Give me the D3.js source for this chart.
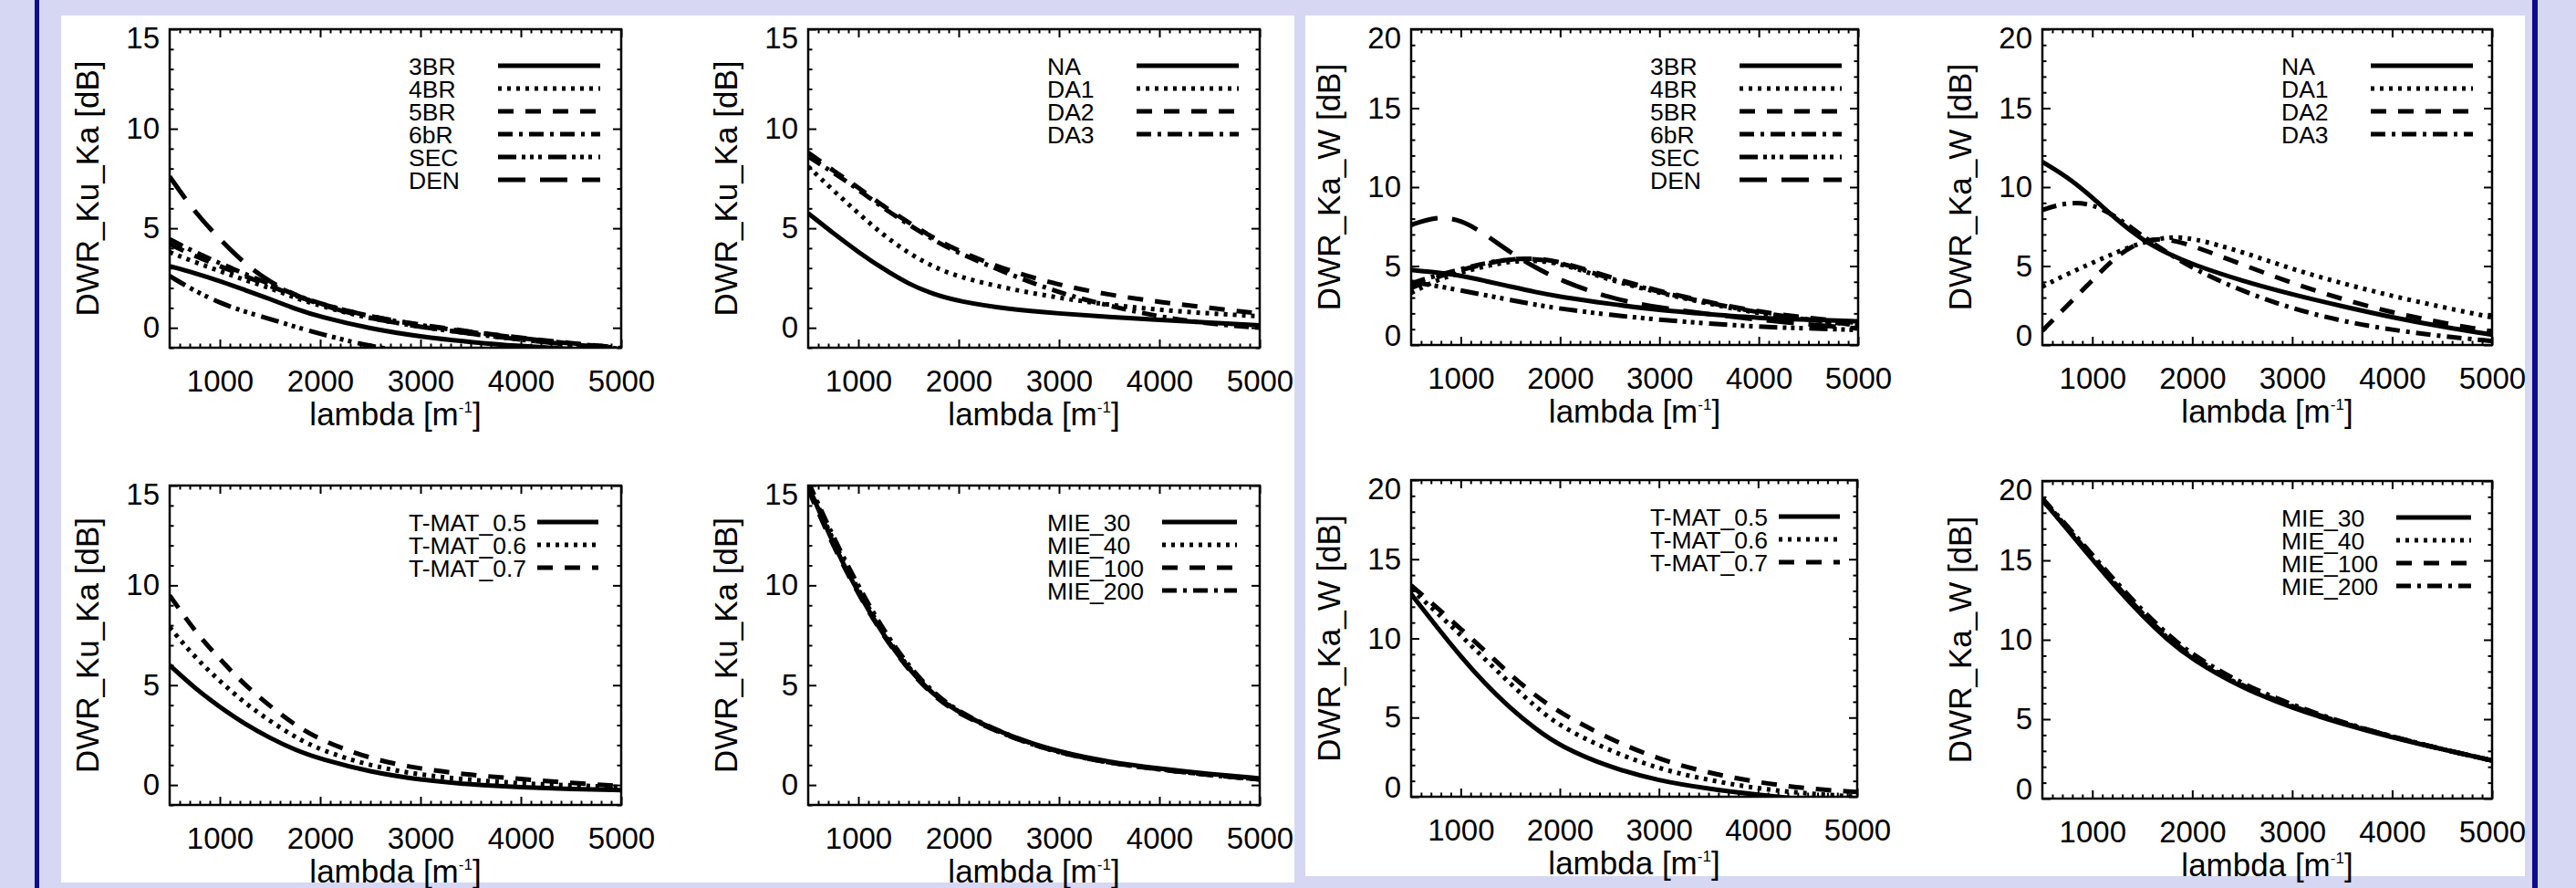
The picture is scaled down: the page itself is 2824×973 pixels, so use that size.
<!DOCTYPE html>
<html>
<head>
<meta charset="utf-8">
<script src="https://cdn.jsdelivr.net/npm/d3@7"></script>
<style>
  body { margin: 0; background: #d6d7f3; }
  svg { display: block; }
  text { font-family: "Liberation Sans", Arial, Helvetica, sans-serif; fill: #000; }
</style>
</head>
<body>
<div id="container"></div>
<script>
// ---- data ----
const lambda = [500, 750, 1000, 1250, 1500, 1750, 2000, 2500, 3000, 3500, 4000, 4500, 5000];
const xTicks = [1000, 2000, 3000, 4000, 5000];
const yTicksKuKa = [0, 5, 10, 15];
const yTicksKaW = [0, 5, 10, 15, 20];

// DWR Ku-Ka, particle habits
const kuKa3BR = [3.1, 2.75, 2.35, 1.9, 1.45, 0.95, 0.55, -0.05, -0.45, -0.72, -0.92, -1.08, -1.2];
const kuKa4BR = [3.8, 3.3, 2.85, 2.4, 2.0, 1.5, 1.1, 0.45, 0.05, -0.3, -0.6, -0.85, -1.05];
const kuKa5BR = [4.2, 3.6, 3.1, 2.6, 2.1, 1.6, 1.2, 0.55, 0.15, -0.2, -0.5, -0.78, -1.0];
const kuKa6bR = [4.45, 3.8, 3.25, 2.7, 2.2, 1.65, 1.2, 0.55, 0.12, -0.22, -0.52, -0.8, -1.02];
const kuKaSEC = [2.6, 1.85, 1.25, 0.8, 0.45, 0.05, -0.3, -0.95, -1.3, -1.6, -1.8, -2.0, -2.1];
const kuKaDEN = [7.6, 5.8, 4.45, 3.2, 2.3, 1.65, 1.15, 0.45, 0.05, -0.3, -0.6, -0.85, -1.05];

// DWR Ku-Ka, aggregates
const kuKaNA = [5.75, 4.75, 3.8, 2.95, 2.2, 1.68, 1.33, 0.93, 0.72, 0.54, 0.4, 0.26, 0.12];
const kuKaDA1 = [8.1, 6.9, 5.75, 4.65, 3.75, 3.05, 2.55, 1.95, 1.5, 1.15, 0.9, 0.72, 0.58];
const kuKaDA2 = [8.8, 7.9, 7.05, 6.1, 5.3, 4.5, 3.85, 2.85, 2.15, 1.65, 1.3, 1.0, 0.72];
const kuKaDA3 = [8.6, 7.8, 6.95, 6.0, 5.2, 4.4, 3.75, 2.7, 1.75, 1.1, 0.55, 0.2, 0.0];

// DWR Ka-W, particle habits
const kaW3BR = [4.75, 4.6, 4.4, 4.05, 3.7, 3.35, 3.05, 2.6, 2.2, 1.95, 1.7, 1.6, 1.5];
const kaW4BR = [3.3, 4.1, 4.6, 5.0, 5.3, 5.35, 5.2, 4.1, 3.3, 2.6, 2.0, 1.6, 1.25];
const kaW5BR = [3.6, 4.3, 4.75, 5.15, 5.45, 5.5, 5.3, 4.3, 3.4, 2.7, 2.1, 1.7, 1.4];
const kaW6bR = [3.9, 4.4, 4.8, 5.2, 5.45, 5.45, 5.25, 4.2, 3.35, 2.65, 2.05, 1.6, 1.25];
const kaWSEC = [4.0, 3.75, 3.45, 3.15, 2.85, 2.55, 2.3, 1.9, 1.6, 1.35, 1.15, 1.05, 0.95];
const kaWDEN = [7.6, 8.15, 7.95, 7.0, 5.85, 4.9, 4.1, 2.95, 2.35, 1.95, 1.6, 1.3, 1.05];

// DWR Ka-W, aggregates
const kaWNA = [11.6, 10.65, 9.35, 7.9, 6.65, 5.8, 5.1, 4.05, 3.2, 2.45, 1.75, 1.15, 0.65];
const kaWDA1 = [3.7, 4.5, 5.2, 5.9, 6.5, 6.85, 6.8, 5.9, 4.8, 3.9, 3.1, 2.4, 1.75];
const kaWDA2 = [0.9, 2.5, 4.1, 5.7, 6.65, 6.75, 6.3, 5.1, 3.9, 2.9, 2.05, 1.4, 0.85];
const kaWDA3 = [8.55, 9.05, 8.95, 8.1, 6.9, 5.85, 4.85, 3.4, 2.3, 1.5, 0.95, 0.55, 0.25];

// DWR Ku-Ka, T-matrix aspect ratios
const kuKaTMAT05 = [6.0, 4.85, 3.9, 3.05, 2.35, 1.75, 1.3, 0.65, 0.25, 0.02, -0.12, -0.2, -0.26];
const kuKaTMAT06 = [7.9, 6.4, 5.2, 4.1, 3.2, 2.4, 1.75, 0.95, 0.5, 0.25, 0.08, -0.02, -0.1];
const kuKaTMAT07 = [9.5, 7.7, 6.3, 5.0, 3.95, 3.0, 2.25, 1.3, 0.8, 0.5, 0.3, 0.1, -0.05];

// DWR Ku-Ka, Mie
const kuKaMIE30 = [15.0, 12.05, 9.6, 7.5, 5.8, 4.5, 3.6, 2.45, 1.65, 1.15, 0.82, 0.55, 0.33];
const kuKaMIE40 = [15.1, 12.2, 9.75, 7.6, 5.85, 4.55, 3.6, 2.4, 1.6, 1.1, 0.78, 0.5, 0.28];
const kuKaMIE100 = [14.8, 11.95, 9.55, 7.45, 5.75, 4.45, 3.55, 2.4, 1.6, 1.1, 0.78, 0.5, 0.28];
const kuKaMIE200 = [15.2, 12.4, 9.95, 7.75, 5.95, 4.6, 3.65, 2.45, 1.62, 1.1, 0.78, 0.5, 0.27];

// DWR Ka-W, T-matrix aspect ratios
const kaWTMAT05 = [12.8, 10.8, 8.85, 7.1, 5.6, 4.3, 3.2, 1.85, 1.0, 0.5, 0.12, -0.2, -0.5];
const kaWTMAT06 = [13.1, 11.7, 10.2, 8.65, 7.15, 5.7, 4.45, 2.9, 1.75, 1.05, 0.5, 0.2, 0.0];
const kaWTMAT07 = [13.35, 12.0, 10.6, 9.2, 7.7, 6.4, 5.3, 3.65, 2.35, 1.5, 0.9, 0.5, 0.3];

// DWR Ka-W, Mie
const kaWMIE30 = [18.8, 16.95, 15.05, 13.2, 11.5, 10.0, 8.75, 6.95, 5.7, 4.7, 3.85, 3.1, 2.4];
const kaWMIE40 = [18.9, 17.05, 15.15, 13.3, 11.6, 10.1, 8.85, 7.0, 5.75, 4.75, 3.9, 3.1, 2.4];
const kaWMIE100 = [18.8, 17.05, 15.2, 13.35, 11.65, 10.15, 8.9, 7.05, 5.8, 4.75, 3.9, 3.1, 2.4];
const kaWMIE200 = [18.9, 17.15, 15.35, 13.55, 11.85, 10.35, 9.05, 7.2, 5.9, 4.8, 3.9, 3.1, 2.4];

// ---- styles ----
const width = 2824;
const height = 973;
const dash = {
  solid: null,
  dotted: "4,6",
  dashed: "17,13",
  dashdot: "16,7,4,7",
  dash3dot: "20,6,4,5,4,5,4,7",
  longdash: "30,16",
};

const habitSeries = (v) => [
  { name: "3BR", values: v[0], style: "solid" },
  { name: "4BR", values: v[1], style: "dotted" },
  { name: "5BR", values: v[2], style: "dashed" },
  { name: "6bR", values: v[3], style: "dashdot" },
  { name: "SEC", values: v[4], style: "dash3dot" },
  { name: "DEN", values: v[5], style: "longdash" },
];
const aggSeries = (v) => [
  { name: "NA", values: v[0], style: "solid" },
  { name: "DA1", values: v[1], style: "dotted" },
  { name: "DA2", values: v[2], style: "dashed" },
  { name: "DA3", values: v[3], style: "dashdot" },
];
const tmatSeries = (v) => [
  { name: "T-MAT_0.5", values: v[0], style: "solid" },
  { name: "T-MAT_0.6", values: v[1], style: "dotted" },
  { name: "T-MAT_0.7", values: v[2], style: "dashed" },
];
const mieSeries = (v) => [
  { name: "MIE_30", values: v[0], style: "solid" },
  { name: "MIE_40", values: v[1], style: "dotted" },
  { name: "MIE_100", values: v[2], style: "dashed" },
  { name: "MIE_200", values: v[3], style: "dashdot" },
];

const kuKaY = { domain: [-1, 15], ticks: yTicksKuKa, label: "DWR_Ku_Ka [dB]" };
const kaWY = { domain: [0, 20], ticks: yTicksKaW, label: "DWR_Ka_W [dB]" };
const wideLegend = { text: 262, line0: 360, line1: 472 };
const tmatLegend = { text: 262, line0: 403, line1: 470 };
const mieLegend = { text: 262, line0: 388, line1: 470 };

const panels = [
  { x0: 186, x1: 681, y0: 32, y1: 381, y: kuKaY, legend: wideLegend,
    series: habitSeries([kuKa3BR, kuKa4BR, kuKa5BR, kuKa6bR, kuKaSEC, kuKaDEN]) },
  { x0: 886, x1: 1381, y0: 32, y1: 381, y: kuKaY, legend: wideLegend,
    series: aggSeries([kuKaNA, kuKaDA1, kuKaDA2, kuKaDA3]) },
  { x0: 1547, x1: 2037, y0: 32, y1: 378, y: kaWY, legend: wideLegend,
    series: habitSeries([kaW3BR, kaW4BR, kaW5BR, kaW6bR, kaWSEC, kaWDEN]) },
  { x0: 2239, x1: 2732, y0: 32, y1: 378, y: kaWY, legend: wideLegend,
    series: aggSeries([kaWNA, kaWDA1, kaWDA2, kaWDA3]) },
  { x0: 186, x1: 681, y0: 532, y1: 882, y: kuKaY, legend: tmatLegend,
    series: tmatSeries([kuKaTMAT05, kuKaTMAT06, kuKaTMAT07]) },
  { x0: 886, x1: 1381, y0: 532, y1: 882, y: kuKaY, legend: mieLegend,
    series: mieSeries([kuKaMIE30, kuKaMIE40, kuKaMIE100, kuKaMIE200]) },
  { x0: 1547, x1: 2036, y0: 526, y1: 873, y: kaWY, legend: tmatLegend,
    series: tmatSeries([kaWTMAT05, kaWTMAT06, kaWTMAT07]) },
  { x0: 2239, x1: 2732, y0: 527, y1: 875, y: kaWY, legend: mieLegend,
    series: mieSeries([kaWMIE30, kaWMIE40, kaWMIE100, kaWMIE200]) },
];

// ---- page ----
const svg = d3
  .select("#container")
  .append("svg")
  .attr("width", width)
  .attr("height", height);

svg.append("rect").attr("width", width).attr("height", height).attr("fill", "#d6d7f3");
svg.append("rect").attr("x", 67).attr("y", 17).attr("width", 1352).attr("height", 950).attr("fill", "#fff");
svg.append("rect").attr("x", 1431).attr("y", 17).attr("width", 1337).attr("height", 943).attr("fill", "#fff");
svg.append("rect").attr("x", 38).attr("y", 0).attr("width", 5).attr("height", height).attr("fill", "#0e0e8a");
svg.append("rect").attr("x", 2776).attr("y", 0).attr("width", 6).attr("height", height).attr("fill", "#0e0e8a");

const xMinor = d3.range(600, 5000, 100).filter((v) => v % 1000 !== 0);

panels.forEach((p, i) => {
  const x = d3.scaleLinear().domain([500, 5000]).range([p.x0, p.x1]);
  const y = d3.scaleLinear().domain(p.y.domain).range([p.y1, p.y0]);
  const yMinor = d3.range(p.y.domain[0], p.y.domain[1]).filter((v) => v % 5 !== 0);
  const g = svg.append("g");

  // ticks, all pointing inward
  const axes = [
    [d3.axisBottom(x).tickValues(xTicks), `translate(0,${p.y1})`, 9, "bottom"],
    [d3.axisBottom(x).tickValues(xMinor), `translate(0,${p.y1})`, 4.5, null],
    [d3.axisTop(x).tickValues(xTicks), `translate(0,${p.y0})`, 9, null],
    [d3.axisTop(x).tickValues(xMinor), `translate(0,${p.y0})`, 4.5, null],
    [d3.axisLeft(y).tickValues(p.y.ticks), `translate(${p.x0},0)`, 9, "left"],
    [d3.axisLeft(y).tickValues(yMinor), `translate(${p.x0},0)`, 4.5, null],
    [d3.axisRight(y).tickValues(p.y.ticks), `translate(${p.x1},0)`, 9, null],
    [d3.axisRight(y).tickValues(yMinor), `translate(${p.x1},0)`, 4.5, null],
  ];
  axes.forEach(([axis, tr, size, labels]) => {
    axis.tickSize(-size).tickSizeOuter(0);
    axis.tickFormat(labels ? d3.format("d") : () => "");
    const a = g.append("g").attr("transform", tr).call(axis);
    a.select(".domain").remove();
    a.selectAll("line").attr("stroke", "#000").attr("stroke-width", 2);
    a.attr("font-family", null).attr("font-size", null);
    a.selectAll("text").attr("font-size", 33);
    if (labels === "bottom") a.selectAll("text").attr("y", 25);
    if (labels === "left") {
      a.selectAll("text")
        .attr("x", -11)
        .attr("dy", (d) => (d === p.y.domain[1] ? "0.62em" : d === p.y.domain[0] ? "0.02em" : "0.32em"));
    }
  });

  // frame
  g.append("rect")
    .attr("x", p.x0).attr("y", p.y0)
    .attr("width", p.x1 - p.x0).attr("height", p.y1 - p.y0)
    .attr("fill", "none").attr("stroke", "#000").attr("stroke-width", 2.5);

  // axis titles
  g.append("text")
    .attr("transform", `translate(${p.x0 - 78},${(p.y0 + p.y1) / 2}) rotate(-90)`)
    .attr("text-anchor", "middle")
    .attr("font-size", 35)
    .text(p.y.label);
  const xl = g.append("text")
    .attr("x", (p.x0 + p.x1) / 2)
    .attr("y", p.y1 + 85)
    .attr("text-anchor", "middle")
    .attr("font-size", 35);
  xl.append("tspan").text("lambda [m");
  xl.append("tspan").attr("font-size", 17).attr("dy", -14).text("-1");
  xl.append("tspan").attr("dy", 14).text("]");

  // curves
  const clipId = "clip" + i;
  svg.append("clipPath").attr("id", clipId)
    .append("rect")
    .attr("x", p.x0).attr("y", p.y0)
    .attr("width", p.x1 - p.x0).attr("height", p.y1 - p.y0);

  const line = d3.line()
    .x((d, j) => x(lambda[j]))
    .y((d) => y(d))
    .curve(d3.curveBasis);

  g.append("g")
    .attr("clip-path", `url(#${clipId})`)
    .selectAll("path")
    .data(p.series)
    .enter()
    .append("path")
    .attr("d", (s) => line(s.values))
    .attr("fill", "none")
    .attr("stroke", "#000")
    .attr("stroke-width", 5)
    .attr("stroke-dasharray", (s) => dash[s.style]);

  // legend
  const leg = g.append("g");
  p.series.forEach((s, k) => {
    const ly = p.y0 + 40 + 25 * k;
    leg.append("text")
      .attr("x", p.x0 + p.legend.text)
      .attr("y", ly)
      .attr("dy", "0.38em")
      .attr("font-size", 26.5)
      .text(s.name);
    leg.append("line")
      .attr("x1", p.x0 + p.legend.line0)
      .attr("x2", p.x0 + p.legend.line1)
      .attr("y1", ly).attr("y2", ly)
      .attr("stroke", "#000")
      .attr("stroke-width", 5)
      .attr("stroke-dasharray", dash[s.style]);
  });
});
</script>
</body>
</html>
